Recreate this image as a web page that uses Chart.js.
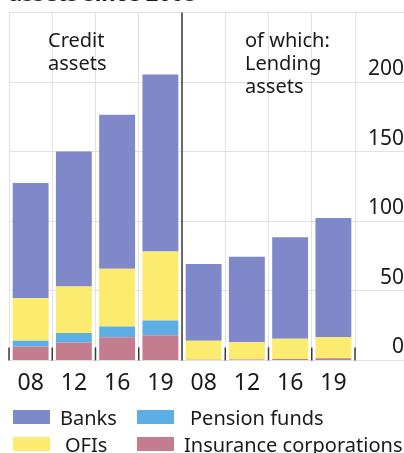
<!DOCTYPE html>
<html>
<head>
<meta charset="utf-8">
<script src="https://cdn.jsdelivr.net/npm/chart.js@4.4.0/dist/chart.umd.min.js"></script>
<style>
  html, body { margin: 0; padding: 0; background: #fff; overflow: hidden; }
  #outer { position: relative; width: 404px; height: 453px; }
  #legend {
    position: absolute; left: 13px; top: 407px;
    display: grid; grid-template-columns: 124px auto; row-gap: 7px;
    font: 20px 'Noto Sans', sans-serif; color: #1a1a1a;
  }
  .item { display: flex; align-items: center; height: 20px; white-space: pre; }
  .box { width: 37px; height: 14px; margin-right: 10px; }
</style>
</head>
<body>
<div id="outer">
  <canvas id="myBarChart"></canvas>
  <div id="legend"></div>
</div>

<script>
var years = ["08", "12", "16", "19"]
var categories = years.concat(years)
var yTicks = [0, 50, 100, 150, 200]

// left panel: credit assets, right panel: of which lending assets
var banksCredit = [82.8, 97.1, 110.8, 127.1]
var banksLending = [55, 61.4, 73, 85.6]
var ofisCredit = [30.5, 33.5, 41.5, 49.7]
var ofisLending = [13.7, 12.4, 14.5, 15.2]
var pensionCredit = [4.3, 6.8, 7.6, 10.5]
var pensionLending = [0, 0, 0, 0]
var insuranceCredit = [9.9, 12.8, 16.7, 18.1]
var insuranceLending = [0.5, 0.7, 1, 1.5]

var panelLabels = [["Credit", "assets"], ["of which:", "Lending", "assets"]]
var title = "assets since 2008"

// stacking order, bottom first
var datasets = [
  { label: "Insurance corporations", data: insuranceCredit.concat(insuranceLending), backgroundColor: "#c47d8e" },
  { label: "Pension funds", data: pensionCredit.concat(pensionLending), backgroundColor: "#5eaee6" },
  { label: "OFIs", data: ofisCredit.concat(ofisLending), backgroundColor: "#fbeb6e" },
  { label: "Banks", data: banksCredit.concat(banksLending), backgroundColor: "#7f88c9" }
]
datasets.forEach(function (d) {
  d.barPercentage = 0.83
  d.categoryPercentage = 1
  d.borderWidth = 0
})

var font = "'Noto Sans', sans-serif"

// category ticks, panel divider and panel captions
var decorations = {
  id: 'decorations',
  afterDatasetsDraw: function (chart) {
    var ctx = chart.ctx
    var area = chart.chartArea
    var x = chart.scales.x
    var n = categories.length
    ctx.save()
    ctx.strokeStyle = '#3a3a3a'
    ctx.lineWidth = 1.5
    for (var i = 0; i <= n; i++) {
      var px
      if (i == 0) px = area.left
      else if (i == n) px = area.right
      else px = (x.getPixelForValue(i - 1) + x.getPixelForValue(i)) / 2
      var top = (i == years.length) ? area.top : area.bottom - 13
      ctx.beginPath()
      ctx.moveTo(px, top)
      ctx.lineTo(px, area.bottom)
      ctx.stroke()
    }

    ctx.fillStyle = '#1a1a1a'
    ctx.font = "20px " + font
    ctx.textBaseline = 'alphabetic'
    ctx.textAlign = 'left'
    var starts = [area.left + 39, area.left + 236]
    panelLabels.forEach(function (lines, p) {
      lines.forEach(function (line, j) {
        ctx.fillText(line, starts[p], area.top + 34.2 + j * 23)
      })
    })
    ctx.restore()
  }
}

var ctx = document.getElementById("myBarChart").getContext('2d')
var myBarChart = new Chart(ctx, {
  type: 'bar',
  data: { labels: categories, datasets: datasets },
  plugins: [decorations],
  options: {
    responsive: true,
    maintainAspectRatio: false,
    animation: false,
    layout: { padding: { left: 9, right: 0, top: 0, bottom: 47 } },
    plugins: {
      legend: { display: false },
      tooltip: { enabled: false },
      title: {
        display: true,
        text: title,
        align: 'start',
        color: '#1a1a1a',
        font: { family: font, size: 22, weight: 'bold' },
        padding: { top: -18.5, bottom: 4.6 }
      }
    },
    scales: {
      x: {
        stacked: true,
        border: { display: false },
        grid: { color: '#e2e2e2', drawTicks: false, offset: true },
        ticks: { color: '#1a1a1a', font: { family: font, size: 23 }, padding: 9, maxRotation: 0 }
      },
      y: {
        stacked: true,
        position: 'right',
        min: 0,
        max: 250,
        border: { display: false },
        grid: { color: '#e2e2e2', tickLength: 49 },
        afterFit: function (scale) { scale.width = 49 },
        ticks: {
          stepSize: 50,
          color: '#1a1a1a',
          font: { family: font, size: 21 },
          crossAlign: 'far',
          padding: -39,
          labelOffset: -13,
          callback: function (v) { return yTicks.indexOf(v) >= 0 ? v : '' }
        }
      }
    }
  }
})

// legend laid out in two columns like the original
var legendOrder = [3, 1, 2, 0]
var legendIndent = [0, 6, 5, 0]
var legend = document.getElementById("legend")
legendOrder.forEach(function (di, k) {
  var d = datasets[di]
  var item = document.createElement("div")
  item.className = "item"
  var box = document.createElement("span")
  box.className = "box"
  box.style.background = d.backgroundColor
  var txt = document.createElement("span")
  txt.textContent = d.label
  txt.style.marginLeft = legendIndent[k] + "px"
  item.appendChild(box)
  item.appendChild(txt)
  legend.appendChild(item)
})
</script>
</body>
</html>
